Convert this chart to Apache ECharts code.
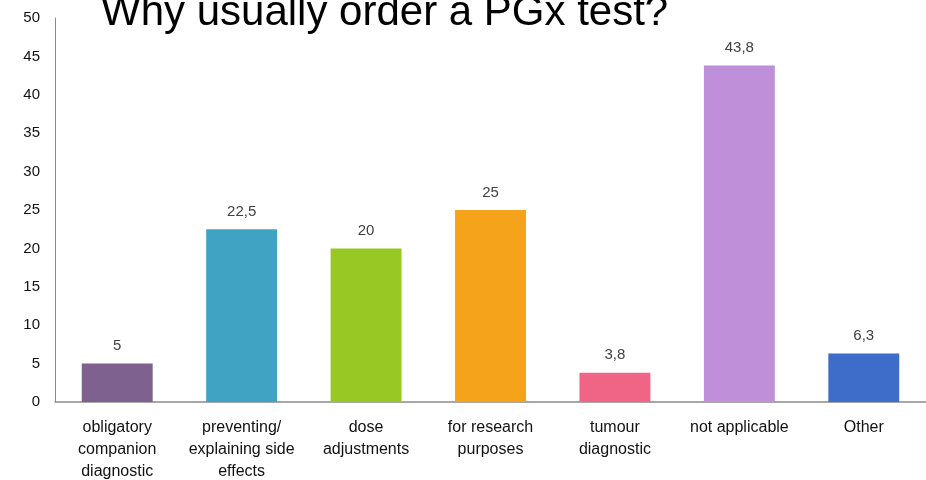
<!DOCTYPE html>
<html>
<head>
<meta charset="utf-8">
<script src="https://cdn.jsdelivr.net/npm/echarts@6/dist/echarts.min.js"></script>
<style>
  html, body { margin: 0; padding: 0; background: #fff; }
  #chart { width: 926px; height: 480px; }
</style>
</head>
<body>
<div id="chart"></div>
<script>
// reasons, percent of answers
var categories = [
  'obligatory\ncompanion\ndiagnostic',
  'preventing/\nexplaining side\neffects',
  'dose\nadjustments',
  'for research\npurposes',
  'tumour\ndiagnostic',
  'not applicable',
  'Other'
];
var values = [5, 22.5, 20, 25, 3.8, 43.8, 6.3];
var barColors = ['#7f6190', '#41a3c3', '#98c823', '#f5a31a', '#f06486', '#bf8fd9', '#3d6cc9'];

var myChart = echarts.init(document.getElementById('chart'));

var option = {
  animation: false,
  textStyle: { fontFamily: 'Liberation Sans, Arial, sans-serif' },
  title: {
    text: 'Why usually order a PGx test?',
    left: 96,
    top: -13,
    textStyle: { fontSize: 42, fontWeight: 'normal', color: '#000', fontFamily: 'Liberation Sans' }
  },
  grid: { left: 55, right: 0, top: 18, bottom: 78, containLabel: false, outerBoundsMode: 'none' },
  xAxis: {
    type: 'category',
    data: categories,
    axisLine: { lineStyle: { color: '#8a8a8a', width: 1.5 } },
    axisTick: { show: false },
    axisLabel: { color: '#111', fontSize: 16, lineHeight: 22, margin: 15, interval: 0 }
  },
  yAxis: {
    type: 'value',
    min: 0,
    max: 50,
    interval: 5,
    axisLine: { show: true, lineStyle: { color: '#8a8a8a', width: 1 } },
    axisTick: { show: false },
    splitLine: { show: false },
    axisLabel: { color: '#111', fontSize: 15, margin: 15 }
  },
  series: [{
    type: 'bar',
    data: values,
    barWidth: '57%',
    itemStyle: {
      color: function (p) { return barColors[p.dataIndex]; }
    },
    label: {
      show: true,
      position: 'top',
      distance: 10,
      color: '#404040',
      fontSize: 15,
      formatter: function (p) { return String(p.value).replace('.', ','); }
    }
  }]
};

myChart.setOption(option);
</script>
</body>
</html>
